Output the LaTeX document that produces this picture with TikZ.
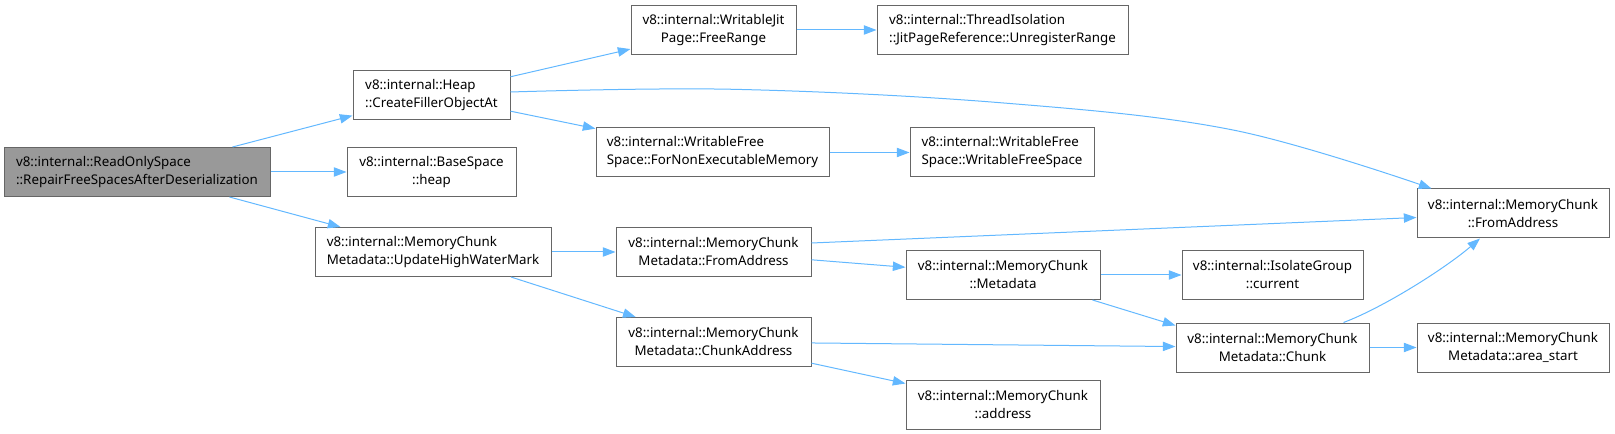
\documentclass[tikz,border=0pt]{standalone}
\usepackage{fontspec}
\setmainfont{Noto Sans}
\usetikzlibrary{arrows.meta,calc}
\definecolor{edgec}{HTML}{63B8FF}
\definecolor{bord}{HTML}{666666}
\definecolor{rootfill}{HTML}{999999}
\tikzset{
  box/.style={draw=bord, line width=0.75pt, fill=white, inner xsep=0pt, inner ysep=0pt,
    minimum height=36.75pt, font=\fontsize{10}{13.5}\selectfont, align=center},
  lbox/.style={box, align=left},
  bw/.style={minimum width=#1*0.75pt},
  edge/.style={draw=edgec, line width=0.75pt, -{Stealth[length=9.5pt,width=7pt,inset=0pt]}},
}
\begin{document}
\begin{tikzpicture}[x=0.75pt,y=-0.75pt]
\useasboundingbox (0,0) rectangle (1615,434);
\node[lbox, bw=266, fill=rootfill] (root) at (137,172) {v8::internal::ReadOnlySpace\\::RepairFreeSpacesAfterDeserialization};
\node[lbox, bw=157] (heap) at (431.5,95) {v8::internal::Heap\\::CreateFillerObjectAt};
\node[box, bw=169] (bsh) at (431.5,172) {v8::internal::BaseSpace\\::heap};
\node[lbox, bw=236] (uhwm) at (433,252) {v8::internal::MemoryChunk\\Metadata::UpdateHighWaterMark};
\node[box, bw=165] (wj) at (713.5,30) {v8::internal::WritableJit\\Page::FreeRange};
\node[lbox, bw=251] (ti) at (1002.5,30) {v8::internal::ThreadIsolation\\::JitPageReference::UnregisterRange};
\node[lbox, bw=233] (fne) at (712.5,152.5) {v8::internal::WritableFree\\Space::ForNonExecutableMemory};
\node[lbox, bw=184] (wfs) at (1002,152.5) {v8::internal::WritableFree\\Space::WritableFreeSpace};
\node[box, bw=195] (mcmfa) at (713.5,252) {v8::internal::MemoryChunk\\Metadata::FromAddress};
\node[box, bw=194] (mcmd) at (1003,275) {v8::internal::MemoryChunk\\::Metadata};
\node[box, bw=195] (mcmca) at (713.5,342) {v8::internal::MemoryChunk\\Metadata::ChunkAddress};
\node[box, bw=194] (mcad) at (1003,404.5) {v8::internal::MemoryChunk\\::address};
\node[box, bw=192] (mcfa) at (1513,213.5) {v8::internal::MemoryChunk\\::FromAddress};
\node[box, bw=181] (igc) at (1272.5,275) {v8::internal::IsolateGroup\\::current};
\node[box, bw=193] (chunk) at (1272.5,347.5) {v8::internal::MemoryChunk\\Metadata::Chunk};
\node[box, bw=192] (area) at (1513,347.5) {v8::internal::MemoryChunk\\Metadata::area\_start};

\draw[edge] (root) -- (heap);
\draw[edge] (root) -- (bsh);
\draw[edge] (root) -- (uhwm);
\draw[edge] (heap) -- (wj);
\draw[edge] plot[smooth, tension=0.6] coordinates {($(heap.east)+(0,-3)$) (733,89.3) (1000,102.7) (1233,130) ($(mcfa.north west)+(15,0)$)};
\draw[edge] (heap) -- (fne);
\draw[edge] (wj) -- (ti);
\draw[edge] (fne) -- (wfs);
\draw[edge] (uhwm) -- (mcmfa);
\draw[edge] (uhwm) -- (mcmca);
\draw[edge] ($(mcmfa.east)+(0,-9)$) -- ($(mcfa.west)+(0,4)$);
\draw[edge] (mcmfa) -- (mcmd);
\draw[edge] (mcmd) -- (igc);
\draw[edge] ($(mcmd.south east)+(-8,0)$) -- ($(chunk.west)+(0,-22)$);
\draw[edge] (mcmca) -- (chunk);
\draw[edge] (mcmca) -- (mcad);
\draw[edge] (chunk) -- (area);
\draw[edge] ($(chunk.north)+(71,0)$) .. controls +(40,-15) and +(-35,30) .. ($(mcfa.south)+(-33,0)$);
\end{tikzpicture}
\end{document}
